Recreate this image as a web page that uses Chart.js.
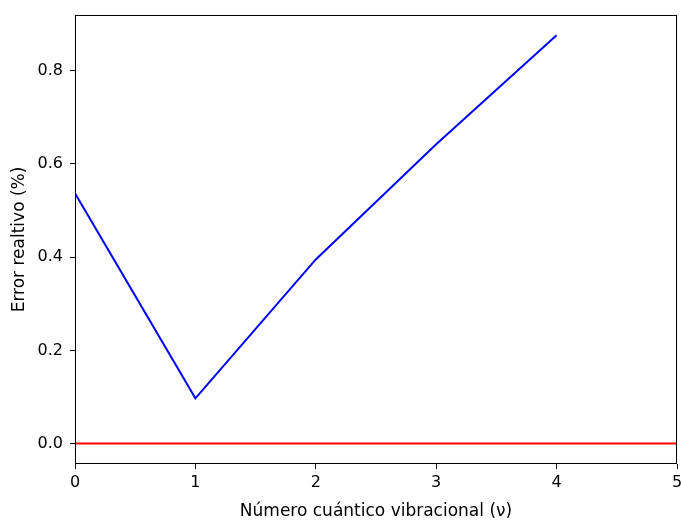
<!DOCTYPE html>
<html>
<head>
<meta charset="utf-8">
<script src="https://cdn.jsdelivr.net/npm/chart.js@4/dist/chart.umd.min.js"></script>
<style>
html,body{margin:0;padding:0;background:#fff;}
#wrap{width:681px;height:520px;}
</style>
</head>
<body>
<div id="wrap"><canvas id="c" width="681" height="520"></canvas></div>
<script>
const vibLevels = [0, 1, 2, 3, 4];
const relError = [0.537, 0.097, 0.395, 0.642, 0.876];
const refX = [0, 5];
const refY = [0, 0];
const xTicks = [0, 1, 2, 3, 4, 5];
const yTicks = [0.0, 0.2, 0.4, 0.6, 0.8];
const xLabel = 'Número cuántico vibracional (ν)';
const yLabel = 'Error realtivo (%)';

const tickFont = {family: 'DejaVu Sans', size: 16};
const titleFont = {family: 'DejaVu Sans', size: 17};

const framePlugin = {
  id: 'frame',
  afterDraw(chart) {
    const a = chart.chartArea, ctx = chart.ctx;
    ctx.save();
    ctx.strokeStyle = '#000';
    ctx.lineWidth = 1;
    ctx.strokeRect(Math.round(a.left) + 0.5, Math.round(a.top) + 0.5,
      Math.round(a.right - a.left) - 1, Math.round(a.bottom - a.top) - 1);
    ctx.restore();
  }
};

new Chart(document.getElementById('c'), {
  type: 'line',
  data: {
    datasets: [
      {
        data: vibLevels.map((v, i) => ({x: v, y: relError[i]})),
        borderColor: '#0000ff',
        borderWidth: 2,
        pointRadius: 0,
        fill: false,
        tension: 0
      },
      {
        data: refX.map((v, i) => ({x: v, y: refY[i]})),
        borderColor: '#ff0000',
        borderWidth: 2,
        pointRadius: 0,
        fill: false,
        tension: 0
      }
    ]
  },
  options: {
    responsive: false,
    animation: false,
    devicePixelRatio: 1,
    layout: {padding: {top: 15, right: 4, left: 0, bottom: 0}},
    plugins: {legend: {display: false}, tooltip: {enabled: false}},
    scales: {
      x: {
        type: 'linear',
        min: 0, max: 5,
        afterBuildTicks: s => { s.ticks = xTicks.map(v => ({value: v})); },
        afterFit: s => { s.height = 56; s.paddingRight = 0; s.paddingLeft = 0; },
        grid: {drawOnChartArea: false, tickLength: 5, color: '#000', tickWidth: 1},
        border: {display: false},
        ticks: {color: '#000', font: tickFont, padding: 4, maxRotation: 0,
          callback: v => String(v)},
        title: {display: true, text: xLabel, color: '#000', font: titleFont, padding: {top: 2, bottom: -2}}
      },
      y: {
        type: 'linear',
        min: -0.0438, max: 0.9194,
        afterBuildTicks: s => { s.ticks = yTicks.map(v => ({value: v})); },
        afterFit: s => { s.width = 75; s.paddingTop = 0; s.paddingBottom = 0; },
        grid: {drawOnChartArea: false, tickLength: 5, color: '#000', tickWidth: 1},
        border: {display: false},
        ticks: {color: '#000', font: tickFont, padding: 7,
          callback: v => Number(v).toFixed(1)},
        title: {display: true, text: yLabel, color: '#000', font: titleFont, padding: {top: 9, bottom: 4}}
      }
    }
  },
  plugins: [framePlugin]
});
</script>
</body>
</html>
